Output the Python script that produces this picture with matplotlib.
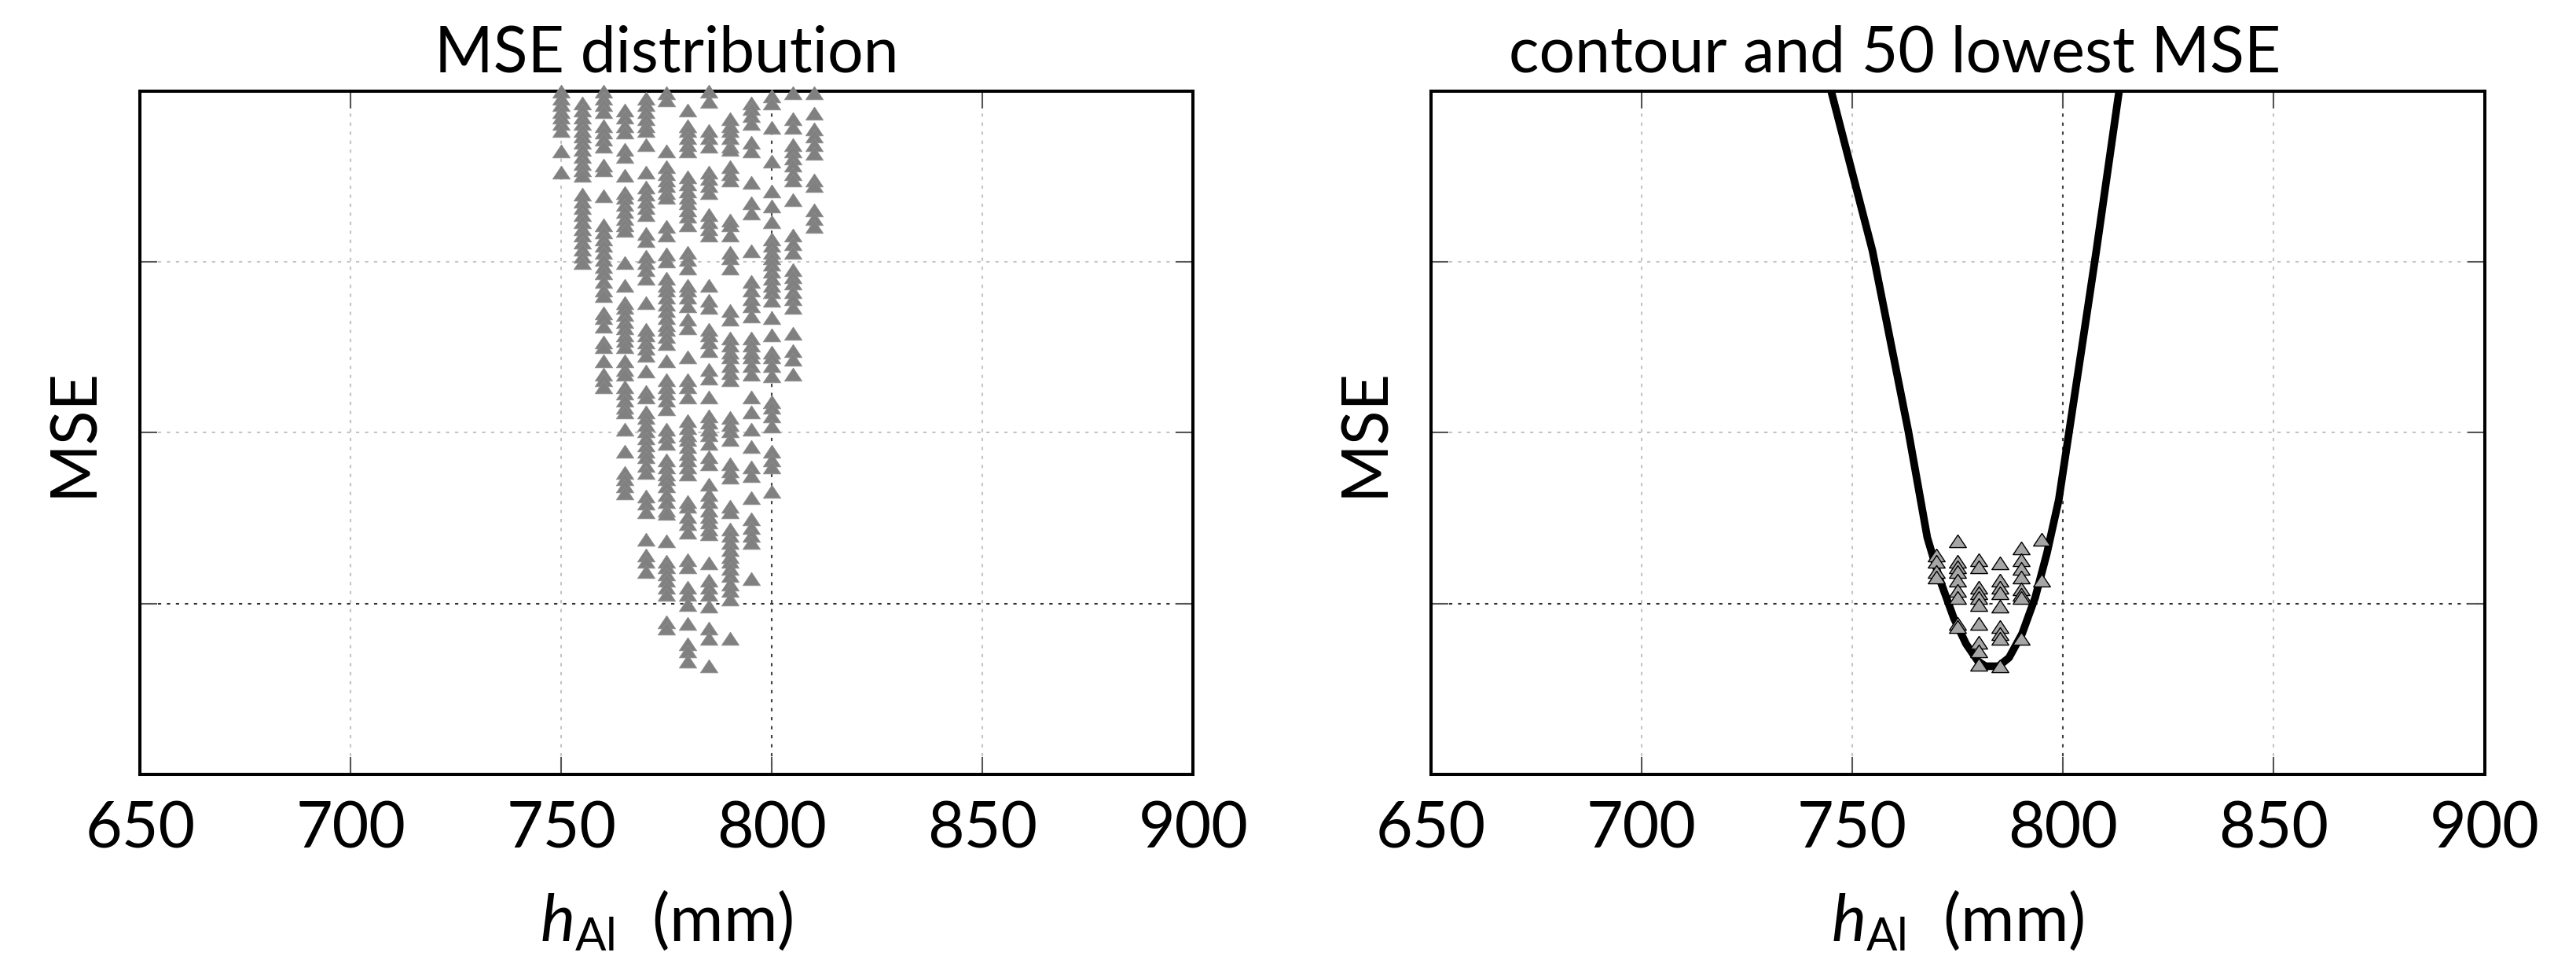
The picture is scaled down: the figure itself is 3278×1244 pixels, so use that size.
import numpy as np
import matplotlib
matplotlib.use('Agg')
import matplotlib.pyplot as plt

plt.rcParams['font.family'] = 'Lato'
plt.rcParams['mathtext.fontset'] = 'custom'
plt.rcParams['mathtext.rm'] = 'Lato'
plt.rcParams['mathtext.it'] = 'Lato:italic'

# h_Al grid (mm) and MSE values per column (arbitrary units, axis has no labels)
h_cols = [750, 755, 760, 765, 770, 775, 780, 785, 790, 795, 800, 805, 810]
mse_750 = [3.97, 3.93, 3.89, 3.85, 3.82, 3.78, 3.74, 3.62, 3.50]
mse_755 = [3.90, 3.86, 3.82, 3.78, 3.74, 3.71, 3.67, 3.63, 3.59, 3.55, 3.51, 3.48,
           3.37, 3.33, 3.29, 3.25, 3.21, 3.17, 3.13, 3.09, 3.05, 3.01, 2.97]
mse_760 = [3.97, 3.93, 3.89, 3.85, 3.77, 3.73, 3.69, 3.65, 3.54, 3.51, 3.36, 3.19,
           3.15, 3.11, 3.07, 3.03, 2.99, 2.95, 2.91, 2.86, 2.81, 2.78, 2.68, 2.65,
           2.60, 2.51, 2.48, 2.40, 2.32, 2.29, 2.25]
mse_765 = [3.86, 3.82, 3.77, 3.73, 3.63, 3.59, 3.48, 3.38, 3.35, 3.31, 3.27, 3.23,
           3.19, 3.16, 2.97, 2.84, 2.74, 2.71, 2.67, 2.63, 2.59, 2.55, 2.52, 2.48,
           2.40, 2.35, 2.32, 2.25, 2.21, 2.17, 2.13, 2.10, 2.00, 1.87, 1.75, 1.71,
           1.67, 1.63]
mse_770 = [3.93, 3.89, 3.85, 3.81, 3.77, 3.74, 3.66, 3.50, 3.41, 3.37, 3.33, 3.29,
           3.25, 3.14, 3.10, 3.01, 2.97, 2.93, 2.88, 2.74, 2.58, 2.55, 2.51, 2.47,
           2.43, 2.34, 2.22, 2.19, 2.10, 2.07, 2.03, 1.99, 1.95, 1.91, 1.87, 1.84,
           1.79, 1.75, 1.61, 1.57, 1.52, 1.36, 1.27, 1.23, 1.17]
mse_775 = [3.96, 3.92, 3.62, 3.53, 3.49, 3.45, 3.42, 3.38, 3.35, 3.18, 3.13, 3.02,
           2.98, 2.88, 2.84, 2.81, 2.77, 2.73, 2.69, 2.65, 2.61, 2.58, 2.54, 2.50,
           2.40, 2.29, 2.25, 2.21, 2.17, 2.12, 2.00, 1.96, 1.92, 1.82, 1.78, 1.74,
           1.71, 1.67, 1.62, 1.58, 1.53, 1.51, 1.35, 1.23, 1.20, 1.16, 1.12, 1.08,
           1.04, 0.88, 0.84]
mse_780 = [3.86, 3.77, 3.74, 3.70, 3.66, 3.62, 3.47, 3.43, 3.39, 3.35, 3.32, 3.28,
           3.24, 3.19, 3.03, 2.99, 2.94, 2.84, 2.81, 2.77, 2.72, 2.64, 2.59, 2.42,
           2.29, 2.25, 2.19, 2.05, 2.01, 1.97, 1.94, 1.90, 1.86, 1.82, 1.78, 1.74,
           1.58, 1.55, 1.49, 1.45, 1.40, 1.24, 1.20, 1.08, 1.04, 0.98, 0.87, 0.75,
           0.71, 0.65]
mse_785 = [3.97, 3.91, 3.74, 3.70, 3.65, 3.50, 3.46, 3.42, 3.38, 3.25, 3.21, 3.17,
           3.13, 2.84, 2.75, 2.71, 2.58, 2.55, 2.51, 2.46, 2.35, 2.30, 2.19, 2.08,
           2.04, 2.00, 1.97, 1.92, 1.84, 1.80, 1.68, 1.62, 1.58, 1.53, 1.49, 1.46,
           1.42, 1.39, 1.22, 1.12, 1.08, 1.04, 0.97, 0.84, 0.78, 0.62]
mse_790 = [3.81, 3.77, 3.74, 3.70, 3.65, 3.63, 3.53, 3.49, 3.45, 3.22, 3.19, 3.13,
           3.03, 3.00, 2.94, 2.69, 2.64, 2.53, 2.49, 2.45, 2.42, 2.37, 2.33, 2.29,
           2.07, 2.03, 1.99, 1.94, 1.80, 1.76, 1.72, 1.55, 1.52, 1.42, 1.38, 1.34,
           1.30, 1.26, 1.23, 1.19, 1.15, 1.10, 1.06, 1.01, 0.78]
mse_795 = [3.90, 3.87, 3.83, 3.78, 3.67, 3.62, 3.44, 3.32, 3.26, 3.04, 2.86, 2.81,
           2.76, 2.72, 2.66, 2.53, 2.49, 2.45, 2.42, 2.37, 2.32, 2.19, 2.10, 2.00,
           1.90, 1.78, 1.73, 1.60, 1.48, 1.43, 1.38, 1.34, 1.13]
mse_800 = [3.94, 3.90, 3.76, 3.56, 3.39, 3.30, 3.21, 3.11, 3.07, 3.03, 3.00, 2.96,
           2.92, 2.88, 2.84, 2.80, 2.75, 2.65, 2.55, 2.45, 2.42, 2.37, 2.31, 2.16,
           2.13, 2.08, 2.02, 1.87, 1.82, 1.78, 1.64]
mse_805 = [3.96, 3.81, 3.76, 3.66, 3.62, 3.58, 3.54, 3.49, 3.45, 3.34, 3.13, 3.08,
           3.03, 2.93, 2.89, 2.85, 2.80, 2.76, 2.71, 2.56, 2.46, 2.41, 2.32]
mse_810 = [3.96, 3.84, 3.75, 3.71, 3.66, 3.61, 3.45, 3.42, 3.28, 3.23, 3.18]

# 50 lowest MSE (right panel)
best_cols = [770, 775, 780, 785, 790, 795]
best_770 = [1.27, 1.23, 1.17, 1.14]
best_775 = [1.35, 1.23, 1.20, 1.17, 1.12, 1.06, 1.02, 0.87, 0.85]
best_780 = [1.24, 1.20, 1.08, 1.05, 1.02, 0.98, 0.87, 0.76, 0.71, 0.63]
best_785 = [1.22, 1.12, 1.08, 1.05, 0.97, 0.85, 0.81, 0.78, 0.62]
best_790 = [1.31, 1.24, 1.19, 1.14, 1.07, 1.04, 1.02, 0.78]
best_795 = [1.36, 1.12]

# contour line
curve_h = [745.0, 754.8, 763.3, 767.8, 770.7, 774.1, 777.0, 779.8, 781.6, 784.7,
           787.2, 790.3, 793.4, 796.2, 799.0, 804.3, 807.9, 813.3]
curve_mse = [3.97, 3.04, 1.99, 1.37, 1.13, 0.90, 0.75, 0.65, 0.62, 0.62,
             0.67, 0.81, 1.02, 1.28, 1.59, 2.45, 3.04, 3.97]

x_ticks = [650, 700, 750, 800, 850, 900]
y_lo, y_hi = -0.01, 3.97

all_cols = [mse_750, mse_755, mse_760, mse_765, mse_770, mse_775, mse_780,
            mse_785, mse_790, mse_795, mse_800, mse_805, mse_810]
h_left = np.concatenate([[h] * len(v) for h, v in zip(h_cols, all_cols)])
mse_left = np.concatenate(all_cols)
best_all = [best_770, best_775, best_780, best_785, best_790, best_795]
h_best = np.concatenate([[h] * len(v) for h, v in zip(best_cols, best_all)])
mse_best = np.concatenate(best_all)

tri = [(0, 0.75), (-1, -0.75), (1, -0.75), (0, 0.75)]

fig = plt.figure(figsize=(32.78, 12.44), dpi=100)
ax1 = fig.add_axes([0.05445, 0.2082, 0.4087, 0.6986])
ax2 = fig.add_axes([0.5554, 0.2082, 0.4091, 0.6986])


def style(ax):
    ax.set_xlim(650, 900)
    ax.set_ylim(y_lo, y_hi)
    ax.set_xticks(x_ticks)
    yt = np.linspace(y_lo, y_hi, 5)[1:-1]
    ax.set_yticks(yt)
    ax.set_yticklabels([])
    ax.tick_params(direction='in', length=16, width=1.5, color='#555555',
                   top=True, right=True, labelsize=58, pad=24)
    for s in ax.spines.values():
        s.set_linewidth(2.9)
    for x in x_ticks[1:-1]:
        c = '#404040' if x == 800 else '#c4c4c4'
        ax.axvline(x, color=c, ls=(0, (2, 3.5)), lw=1.5, zorder=0)
    for i, y in enumerate(yt):
        c = '#303030' if i == 0 else '#c4c4c4'
        ax.axhline(y, color=c, ls=(0, (2, 3.5)), lw=1.5, zorder=0)


style(ax1)
style(ax2)

ax1.plot(h_left, mse_left, ls='none', marker=tri, ms=16, color='#808080',
         mec='#8c8c8c', mew=0.6, clip_on=False, zorder=3)

ax2.plot(curve_h, curve_mse, color='black', lw=7, zorder=2)
ax2.plot(h_best, mse_best, ls='none', marker=tri, ms=15.5, mfc='#a6a6a6',
         mec='black', mew=1.0, zorder=3)

fig.text(0.2587, 0.9268, 'MSE distribution', ha='center', va='baseline', fontsize=58)
fig.text(0.7357, 0.9268, 'contour and 50 lowest MSE', ha='center', va='baseline', fontsize=58)

for xc in [0.2587, 0.7600]:
    fig.text(xc, 0.058, r'$h_{\mathrm{Al}}$  (mm)', ha='center', va='center', fontsize=60)
for xc in [0.0287, 0.5299]:
    fig.text(xc, 0.558, 'MSE', ha='center', va='center', rotation=90, fontsize=58)

fig.savefig('out.png', dpi=100)
